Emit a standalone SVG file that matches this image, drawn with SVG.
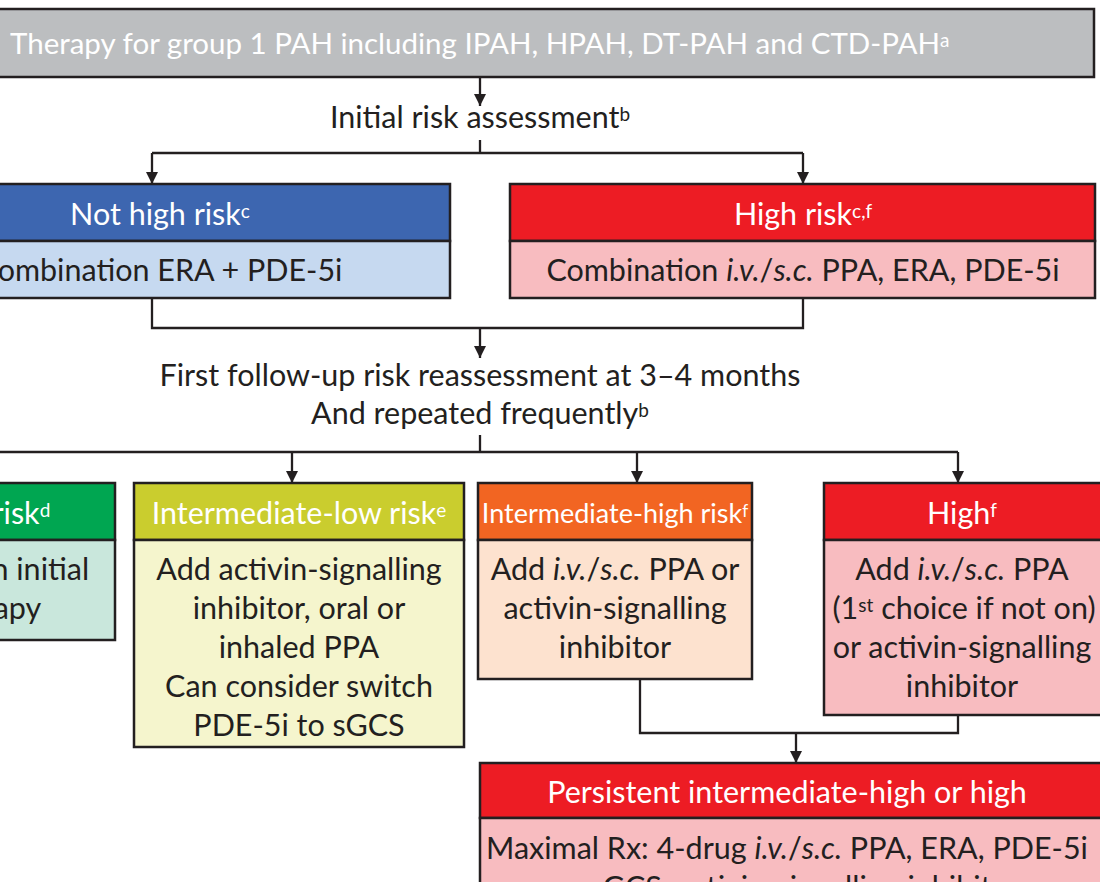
<svg xmlns="http://www.w3.org/2000/svg" width="1100" height="882" viewBox="0 0 1100 882">
<defs>
<marker id="arr" viewBox="0 0 10 10" refX="10" refY="5" markerWidth="13" markerHeight="12" markerUnits="userSpaceOnUse" orient="auto"><path d="M0,0 L10,5 L0,10 z" fill="#231f20"/></marker>
<style>
text{font-family:Lato,"Liberation Sans",sans-serif;font-size:30.5px;text-anchor:middle}
.h{fill:#ffffff}
.b{fill:#231f20}
.box{stroke:#231f20;stroke-width:2.5}
.sup{font-size:19px;baseline-shift:38%}
.it{font-style:italic}
.conn{fill:none;stroke:#231f20;stroke-width:2.3}
</style>
</defs>
<rect width="1100" height="882" fill="#ffffff"/>

<g id="title">
<rect class="box" x="-10" y="9" width="1104" height="68" fill="#bcbec0"/>
<text class="h" x="10" y="54" style="text-anchor:start;font-size:29.5px">Therapy for group 1 PAH including IPAH, HPAH, DT-PAH and CTD-PAH<tspan class="sup">a</tspan></text>
</g>

<g id="initial-label">
<text class="b" x="480" y="128">Initial risk assessment<tspan class="sup">b</tspan></text>
</g>

<g id="not-high-risk">
<rect class="box" x="-140" y="184" width="590" height="57" fill="#3d66b0"/>
<rect class="box" x="-140" y="241" width="590" height="57" fill="#c6d9f0"/>
<text class="h" x="160" y="225">Not high risk<tspan class="sup">c</tspan></text>
<text class="b" x="160" y="281">Combination ERA + PDE-5i</text>
</g>

<g id="high-risk">
<rect class="box" x="510" y="184" width="585" height="57" fill="#ed1c24"/>
<rect class="box" x="510" y="241" width="585" height="57" fill="#f8bcc0"/>
<text class="h" x="803" y="225">High risk<tspan class="sup">c,f</tspan></text>
<text class="b" x="803" y="281">Combination <tspan class="it">i.v.</tspan>/<tspan class="it">s.c.</tspan> PPA, ERA, PDE-5i</text>
</g>

<g id="followup-label">
<text class="b" x="480" y="386">First follow-up risk reassessment at 3–4 months</text>
<text class="b" x="480" y="424">And repeated frequently<tspan class="sup">b</tspan></text>
</g>

<g id="low-risk">
<rect class="box" x="-125" y="483" width="240" height="57" fill="#00a651"/>
<rect class="box" x="-125" y="540" width="240" height="100" fill="#c9e7dc"/>
<text class="h" x="-10" y="524">Low risk<tspan class="sup">d</tspan></text>
<text class="b" x="-10" y="580">Maintain initial</text>
<text class="b" x="-10" y="619">therapy</text>
</g>

<g id="intermediate-low">
<rect class="box" x="134" y="483" width="330" height="57" fill="#cacd2e"/>
<rect class="box" x="134" y="540" width="330" height="207" fill="#f5f5cd"/>
<text class="h" x="299" y="524">Intermediate-low risk<tspan class="sup">e</tspan></text>
<text class="b" x="299" y="580">Add activin-signalling</text>
<text class="b" x="299" y="619">inhibitor, oral or</text>
<text class="b" x="299" y="658">inhaled PPA</text>
<text class="b" x="299" y="697">Can consider switch</text>
<text class="b" x="299" y="736">PDE-5i to sGCS</text>
</g>

<g id="intermediate-high">
<rect class="box" x="478" y="483" width="274" height="57" fill="#f26522"/>
<rect class="box" x="478" y="540" width="274" height="139" fill="#fde2cf"/>
<text class="h" x="615" y="523" style="font-size:27px">Intermediate-high risk<tspan class="sup" style="font-size:17px">f</tspan></text>
<text class="b" x="615" y="580">Add <tspan class="it">i.v.</tspan>/<tspan class="it">s.c.</tspan> PPA or</text>
<text class="b" x="615" y="619">activin-signalling</text>
<text class="b" x="615" y="658">inhibitor</text>
</g>

<g id="high">
<rect class="box" x="824" y="483" width="290" height="57" fill="#ed1c24"/>
<rect class="box" x="824" y="540" width="290" height="175" fill="#f8bcc0"/>
<text class="h" x="962" y="524">High<tspan class="sup">f</tspan></text>
<text class="b" x="962" y="580">Add <tspan class="it">i.v.</tspan>/<tspan class="it">s.c.</tspan> PPA</text>
<text class="b" x="964" y="619">(1<tspan class="sup">st</tspan> choice if not on)</text>
<text class="b" x="962" y="658">or activin-signalling</text>
<text class="b" x="962" y="697">inhibitor</text>
</g>

<g id="persistent">
<rect class="box" x="480" y="763" width="640" height="55" fill="#ed1c24"/>
<rect class="box" x="480" y="818" width="640" height="100" fill="#f8bcc0"/>
<text class="h" x="787" y="803">Persistent intermediate-high or high</text>
<text class="b" x="787" y="859">Maximal Rx: 4-drug <tspan class="it">i.v.</tspan>/<tspan class="it">s.c.</tspan> PPA, ERA, PDE-5i</text>
<text class="b" x="787" y="898">or sGCS, activin-signalling inhibitor</text>
</g>

<g id="connectors">
<path class="conn" d="M480,77 V106" marker-end="url(#arr)"/>
<path class="conn" d="M480,140 V153 M152,153 H803"/>
<path class="conn" d="M152,153 V184" marker-end="url(#arr)"/>
<path class="conn" d="M803,153 V184" marker-end="url(#arr)"/>
<path class="conn" d="M152,298 V328 H803 V298"/>
<path class="conn" d="M480,328 V358" marker-end="url(#arr)"/>
<path class="conn" d="M480,435 V452 M-10,452 H958"/>
<path class="conn" d="M-10,452 V483" marker-end="url(#arr)"/>
<path class="conn" d="M292,452 V483" marker-end="url(#arr)"/>
<path class="conn" d="M637,452 V483" marker-end="url(#arr)"/>
<path class="conn" d="M958,452 V483" marker-end="url(#arr)"/>
<path class="conn" d="M640,679 V733 H958 V715"/>
<path class="conn" d="M796,733 V763" marker-end="url(#arr)"/>
</g>
</svg>
